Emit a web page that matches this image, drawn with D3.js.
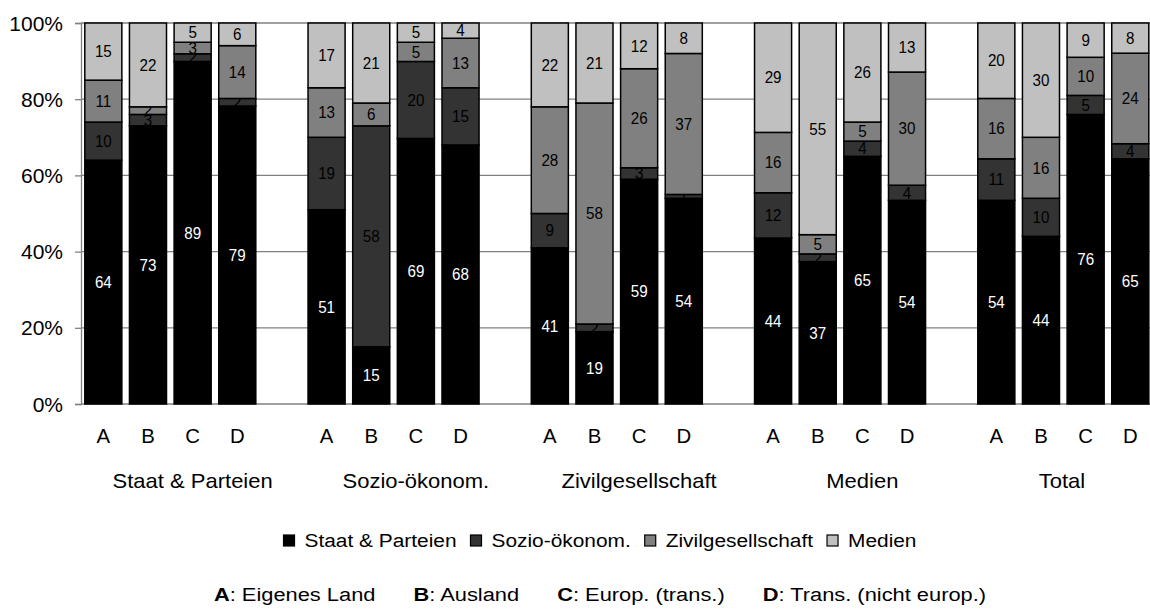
<!DOCTYPE html>
<html>
<head>
<meta charset="utf-8">
<script src="https://cdn.jsdelivr.net/npm/d3@7"></script>
<style>
  body { margin: 0; background: #fff; }
  svg text { font-family: "Liberation Sans", Arial, sans-serif; }
</style>
</head>
<body>
<svg id="chart" width="1150" height="612"></svg>
<script>
// groups of bars, bars per group, stacked series
const groups = ["Staat & Parteien", "Sozio-ökonom.", "Zivilgesellschaft", "Medien", "Total"];
const bars = ["A", "B", "C", "D"];
const seriesNames = ["Staat & Parteien", "Sozio-ökonom.", "Zivilgesellschaft", "Medien"];
const seriesColors = ["#000000", "#333333", "#808080", "#c0c0c0"];

// values per bar, in group order (A,B,C,D of each group)
const staat  = [64, 73, 89, 79,  51, 15, 69, 68,  41, 19, 59, 54,  44, 37, 65, 54,  54, 44, 76, 65];
const sozio  = [10,  3,  2,  2,  19, 58, 20, 15,   9,  2,  3,  1,  12,  2,  4,  4,  11, 10,  5,  4];
const zivil  = [11,  2,  3, 14,  13,  6,  5, 13,  28, 58, 26, 37,  16,  5,  5, 30,  16, 16, 10, 24];
const medien = [15, 22,  5,  6,  17, 21,  5,  4,  22, 21, 12,  8,  29, 55, 26, 13,  20, 30,  9,  8];

const yTicks = [0, 0.2, 0.4, 0.6, 0.8, 1];
const footnote = [["A", ": Eigenes Land"], ["B", ": Ausland"], ["C", ": Europ. (trans.)"], ["D", ": Trans. (nicht europ.)"]];

const svg = d3.select('#chart');

// slot keys: 4 bars per group + 1 blank slot between groups
let slots = [];
groups.forEach((g, gi) => {
    bars.forEach(b => slots.push(g + '|' + b));
    if (gi < groups.length - 1) slots.push('gap' + gi);
});

let rows = [];
groups.forEach((g, gi) => {
    bars.forEach((b, bi) => {
        let i = gi * 4 + bi;
        rows.push({key: g + '|' + b, group: g, bar: b,
            [seriesNames[0]]: staat[i], [seriesNames[1]]: sozio[i],
            [seriesNames[2]]: zivil[i], [seriesNames[3]]: medien[i]});
    });
});

const plotLeft = 81, plotTop = 23, plotBottom = 404, plotRight = 1150;
const step = 44.65;
const x = d3.scaleBand().domain(slots).range([plotLeft, plotLeft + slots.length * step]).paddingInner(0.17).paddingOuter(0.085);
const y = d3.scaleLinear().domain([0, 1]).range([plotBottom, plotTop]);
const color = d3.scaleOrdinal().domain(seriesNames).range(seriesColors);

const stacked = d3.stack().keys(seriesNames).offset(d3.stackOffsetExpand)(rows);

function placeText(sel, px, py, sx) {
    return sel.attr('transform', 'translate(' + px + ',' + py + ') scale(' + sx + ',1)');
}

// grid lines
svg.append('g').selectAll('line').data(yTicks).enter().append('line')
    .attr('x1', plotLeft).attr('x2', plotRight)
    .attr('y1', d => y(d)).attr('y2', d => y(d))
    .attr('stroke', '#808080').attr('stroke-width', 1.3);

// y axis
const yAxis = svg.append('g').attr('transform', 'translate(' + plotLeft + ',0)')
    .call(d3.axisLeft(y).tickValues(yTicks).tickSize(6));
yAxis.select('.domain').attr('stroke', '#808080').attr('stroke-width', 1.3);
yAxis.selectAll('.tick line').attr('stroke', '#808080').attr('stroke-width', 1.3);
yAxis.selectAll('.tick text').remove();
svg.append('g').selectAll('text').data(yTicks).enter().append('text')
    .attr('text-anchor', 'end').attr('font-size', '21px').attr('fill', '#000')
    .attr('dy', '0.36em')
    .text(d => d3.format('.0%')(d))
    .each(function(d) { placeText(d3.select(this), 63, y(d), 1.0); });

// stacked bars
const layers = svg.append('g').selectAll('g').data(stacked).enter().append('g')
    .attr('fill', d => color(d.key));
layers.selectAll('rect').data(d => d).enter().append('rect')
    .attr('x', d => x(d.data.key))
    .attr('width', x.bandwidth())
    .attr('y', d => y(d[1]))
    .attr('height', d => y(d[0]) - y(d[1]))
    .attr('stroke', '#000').attr('stroke-width', 1.5);

// value labels
layers.each(function(s, si) {
    d3.select(this).selectAll('text').data(s).enter().append('text')
        .attr('text-anchor', 'middle').attr('dy', '0.36em')
        .attr('font-size', '16px')
        .attr('fill', si === 0 ? '#fff' : '#000')
        .text(d => d.data[s.key])
        .each(function(d) {
            placeText(d3.select(this), x(d.data.key) + x.bandwidth() / 2, (y(d[0]) + y(d[1])) / 2, 0.95);
        });
});

// category labels A-D
svg.append('g').selectAll('text').data(rows).enter().append('text')
    .attr('text-anchor', 'middle').attr('font-size', '21px').attr('dy', '0.36em')
    .text(d => d.bar)
    .each(function(d) { placeText(d3.select(this), x(d.key) + x.bandwidth() / 2, 435, 0.97); });

// group labels, centred over the group's slots (incl. the following gap), clipped to the plot
svg.append('g').selectAll('text').data(groups).enter().append('text')
    .attr('text-anchor', 'middle').attr('font-size', '20px').attr('dy', '0.36em')
    .text(d => d)
    .each(function(g, gi) {
        let x0 = plotLeft + gi * 5 * step;
        let x1 = Math.min(plotLeft + (gi * 5 + 5) * step, plotRight);
        placeText(d3.select(this), (x0 + x1) / 2, 481, 1.1);
    });

// legend
const legSx = 1.16;
const legend = svg.append('g');
let lx = 0;
seriesNames.forEach((n, i) => {
    let item = legend.append('g').attr('transform', 'translate(' + lx + ',0)');
    item.append('rect').attr('x', 0).attr('y', -6).attr('width', 11).attr('height', 11)
        .attr('fill', color(n)).attr('stroke', '#000').attr('stroke-width', 1.2);
    let t = item.append('text').attr('font-size', '18px').attr('dy', '0.36em').text(n);
    placeText(t, 21, 0, legSx);
    lx += 21 + t.node().getComputedTextLength() * legSx + 14;
});
legend.attr('transform', 'translate(' + (600 - (lx - 14) / 2) + ',541)');

// footnote
const footSx = 1.15, footGap = 38;
const foot = svg.append('g');
let fx = 0;
footnote.forEach((f, i) => {
    let t = foot.append('text').attr('font-size', '19px').attr('dy', '0.36em');
    t.append('tspan').attr('font-weight', 'bold').text(f[0]);
    t.append('tspan').text(f[1]);
    placeText(t, fx, 0, footSx);
    fx += t.node().getComputedTextLength() * footSx + footGap;
});
foot.attr('transform', 'translate(' + (600 - (fx - footGap) / 2) + ',594)');
</script>
</body>
</html>
